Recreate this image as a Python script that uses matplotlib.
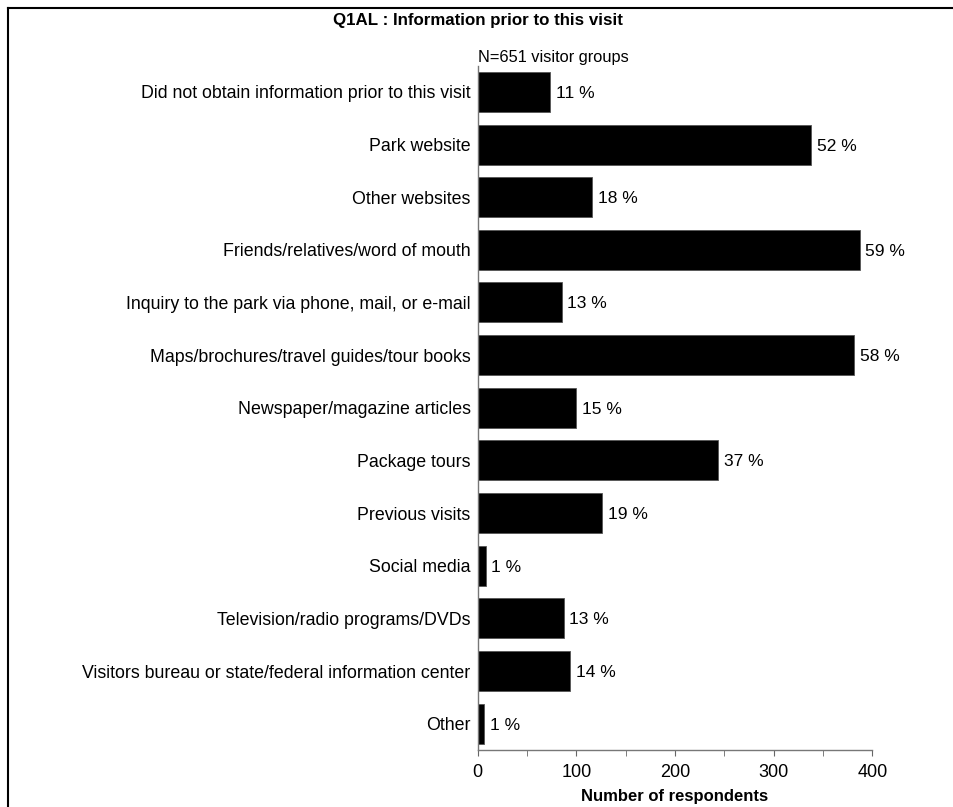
import matplotlib
matplotlib.use("Agg")
import matplotlib.pyplot as plt
from matplotlib.lines import Line2D
from matplotlib.ticker import MultipleLocator

plt.rcParams["font.family"] = ["Liberation Sans", "DejaVu Sans"]

TITLE = "Q1AL : Information prior to this visit"
NOTE = "N=651 visitor groups"
XLABEL = "Number of respondents"

categories = [
    "Did not obtain information prior to this visit",
    "Park website",
    "Other websites",
    "Friends/relatives/word of mouth",
    "Inquiry to the park via phone, mail, or e-mail",
    "Maps/brochures/travel guides/tour books",
    "Newspaper/magazine articles",
    "Package tours",
    "Previous visits",
    "Social media",
    "Television/radio programs/DVDs",
    "Visitors bureau or state/federal information center",
    "Other",
]
counts = [73, 338, 116, 387, 85, 381, 100, 244, 126, 8, 87, 94, 6]
percents = [11, 52, 18, 59, 13, 58, 15, 37, 19, 1, 13, 14, 1]

fig = plt.figure(figsize=(9.54, 8.07), dpi=100)
ax = fig.add_axes([0.5007, 0.0706, 0.4137, 0.8482])

ypos = list(range(len(categories)))
ax.barh(ypos, counts, height=0.76, color="black", edgecolor="#555555", linewidth=0.6)

for y, c, p in zip(ypos, counts, percents):
    ax.text(c + 6, y, f"{p} %", va="center_baseline", ha="left", fontsize=12.5)

ax.set_xlim(0, 400)
ax.set_ylim(len(categories) - 0.5, -0.5)
ax.set_yticks(ypos)
ax.set_yticklabels(categories, fontsize=12.8)
ax.xaxis.set_major_locator(MultipleLocator(100))
ax.xaxis.set_minor_locator(MultipleLocator(50))
ax.tick_params(axis="x", which="both", direction="out", length=4, color="#666666",
               labelsize=13, pad=6)
ax.tick_params(axis="y", length=0, pad=5)

for side in ["top", "right"]:
    ax.spines[side].set_visible(False)
for side in ["left", "bottom"]:
    ax.spines[side].set_color("#777777")
    ax.spines[side].set_linewidth(1.0)

ax.set_xlabel(XLABEL, fontsize=12, fontweight="bold", labelpad=6)
fig.text(0.501, 0.974, TITLE, ha="center", va="center", fontsize=12.2, fontweight="bold")
fig.text(0.501, 0.929, NOTE, ha="left", va="center", fontsize=11.8)

# frame lines along the top and left edge
fig.add_artist(Line2D([8 / 954, 1], [1 - 8 / 807, 1 - 8 / 807], color="black", lw=1.5,
                      transform=fig.transFigure))
fig.add_artist(Line2D([8 / 954, 8 / 954], [0, 1 - 8 / 807], color="black", lw=1.5,
                      transform=fig.transFigure))

fig.savefig("out.png", dpi=100)
